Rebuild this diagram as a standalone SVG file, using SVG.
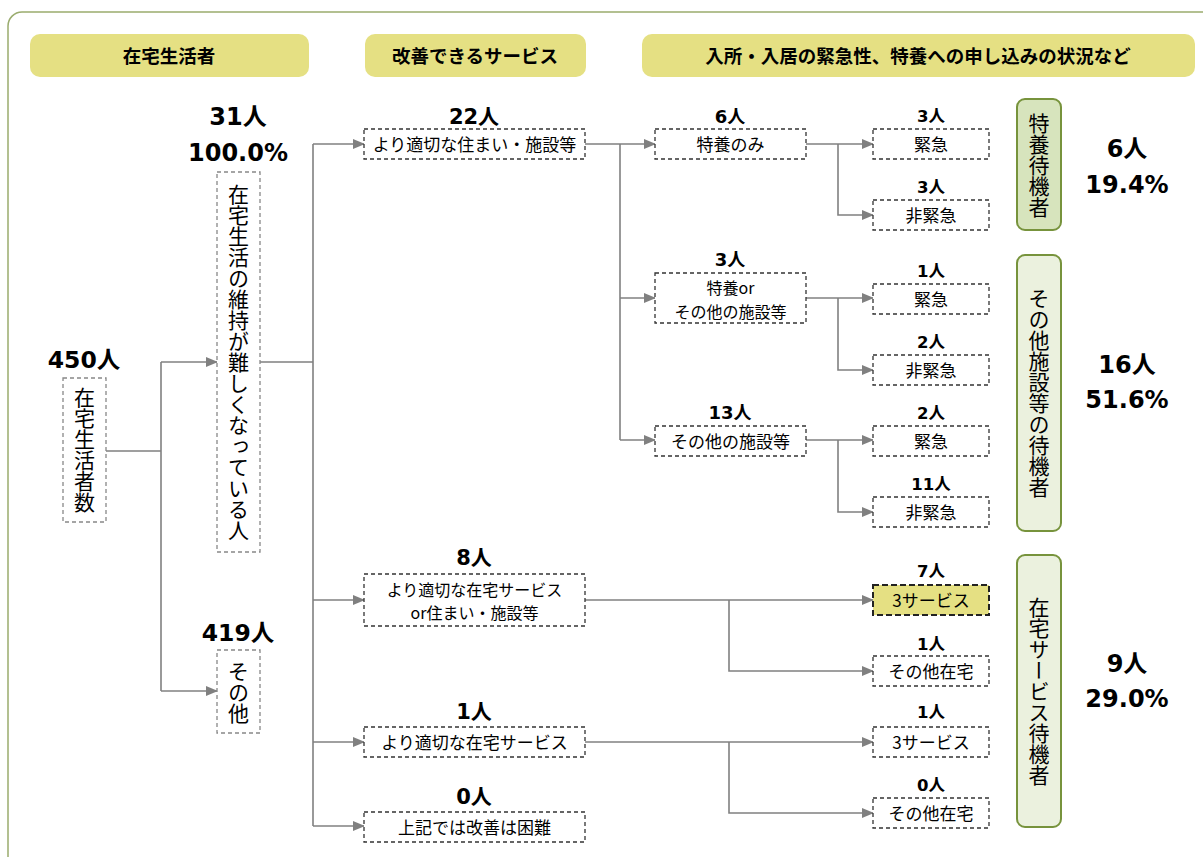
<svg xmlns="http://www.w3.org/2000/svg" width="1203" height="857" viewBox="0 0 1203 857">
<style>
text{font-family:"Noto Sans CJK JP","DejaVu Sans",sans-serif;fill:#000}
.num{font-family:"DejaVu Sans","Noto Sans CJK JP",sans-serif;font-weight:bold;text-anchor:middle}
.hd{fill:#e5e083;stroke:none}
.hdt{font-size:18.5px;font-weight:bold;text-anchor:middle}
.db{fill:#fff;stroke:#333;stroke-width:1.3;stroke-dasharray:4 3}
.gb{fill:#fff;stroke:#888;stroke-width:1.3;stroke-dasharray:4 3}
.bt{font-size:17px;text-anchor:middle}
.bt2{font-size:16px;text-anchor:middle}
.st{font-size:17px;text-anchor:middle}
.vt{font-size:21px;writing-mode:vertical-rl;text-anchor:middle}
.gp{stroke:#77933c;stroke-width:2}
.con path{fill:none;stroke:#808080;stroke-width:1.6}
</style>
<defs>
<marker id="ar" markerWidth="12" markerHeight="10" refX="11" refY="5" orient="auto" markerUnits="userSpaceOnUse">
<path d="M0,0 L12,5 L0,10 Z" fill="#808080"/>
</marker>
</defs>
<rect x="8" y="12" width="1220" height="880" rx="14" fill="#fff" stroke="#9aac6e" stroke-width="1.5"/>

<g id="headers">
<rect class="hd" x="30" y="34" width="279" height="43" rx="10"/>
<text class="hdt" x="169" y="63">在宅生活者</text>
<rect class="hd" x="365" y="34" width="221" height="43" rx="10"/>
<text class="hdt" x="475" y="63">改善できるサービス</text>
<rect class="hd" x="642" y="34" width="553" height="43" rx="10"/>
<text class="hdt" x="918" y="63">入所・入居の緊急性、特養への申し込みの状況など</text>
</g>

<g class="con" id="connectors">
<path d="M106,451 H161 M161,362 V691"/>
<path d="M161,362 H217" marker-end="url(#ar)"/>
<path d="M161,691 H217" marker-end="url(#ar)"/>
<path d="M260,362 H313 M313,144 V826"/>
<path d="M313,144 H364" marker-end="url(#ar)"/>
<path d="M313,600 H364" marker-end="url(#ar)"/>
<path d="M313,742 H364" marker-end="url(#ar)"/>
<path d="M313,826 H364" marker-end="url(#ar)"/>
<path d="M585,144 H620 M620,144 V440"/>
<path d="M620,144 H655" marker-end="url(#ar)"/>
<path d="M620,298 H655" marker-end="url(#ar)"/>
<path d="M620,440 H655" marker-end="url(#ar)"/>
<path d="M806,144 H873" marker-end="url(#ar)"/>
<path d="M838,144 V215 H873" marker-end="url(#ar)"/>
<path d="M806,298 H873" marker-end="url(#ar)"/>
<path d="M838,298 V370 H873" marker-end="url(#ar)"/>
<path d="M806,440 H873" marker-end="url(#ar)"/>
<path d="M838,440 V512 H873" marker-end="url(#ar)"/>
<path d="M585,600 H873" marker-end="url(#ar)"/>
<path d="M729,600 V671 H873" marker-end="url(#ar)"/>
<path d="M585,742 H873" marker-end="url(#ar)"/>
<path d="M729,742 V813 H873" marker-end="url(#ar)"/>
</g>

<g id="n450">
<text class="num" x="84" y="368" font-size="23.5">450人</text>
<rect class="gb" x="63" y="378" width="43" height="144"/>
<text class="vt" x="84.5" y="450">在宅生活者数</text>
</g>
<g id="n31">
<text class="num" x="238" y="125" font-size="24">31人</text>
<text class="num" x="238" y="161" font-size="24">100.0%</text>
<rect class="gb" x="217" y="172" width="43" height="380"/>
<text class="vt" x="238.5" y="362">在宅生活の維持が難しくなっている人</text>
</g>
<g id="n419">
<text class="num" x="238" y="641" font-size="23.5">419人</text>
<rect class="gb" x="217" y="650" width="43" height="83"/>
<text class="vt" x="238.5" y="692">その他</text>
</g>

<g id="m22">
<text class="num" x="474" y="124" font-size="21">22人</text>
<rect class="db" x="364" y="129" width="221" height="30"/>
<text class="bt" x="474.5" y="150.5">より適切な住まい・施設等</text>
</g>
<g id="m8">
<text class="num" x="474" y="565" font-size="21">8人</text>
<rect class="db" x="364" y="574" width="221" height="52"/>
<text class="bt2" x="474.5" y="595.5">より適切な在宅サービス</text>
<text class="bt2" x="474.5" y="619">or住まい・施設等</text>
</g>
<g id="m1">
<text class="num" x="474" y="719" font-size="21">1人</text>
<rect class="db" x="364" y="727" width="221" height="30"/>
<text class="bt" x="474.5" y="748.5">より適切な在宅サービス</text>
</g>
<g id="m0">
<text class="num" x="474" y="804" font-size="21">0人</text>
<rect class="db" x="364" y="812" width="221" height="30"/>
<text class="bt" x="474.5" y="833.5">上記では改善は困難</text>
</g>

<g id="c6">
<text class="num" x="730" y="123" font-size="18">6人</text>
<rect class="db" x="655" y="129" width="151" height="30"/>
<text class="bt" x="730.5" y="150.5">特養のみ</text>
</g>
<g id="c3">
<text class="num" x="730" y="266" font-size="18">3人</text>
<rect class="db" x="655" y="273" width="151" height="50"/>
<text class="bt2" x="730.5" y="294">特養or</text>
<text class="bt2" x="730.5" y="317.5">その他の施設等</text>
</g>
<g id="c13">
<text class="num" x="730" y="419" font-size="18">13人</text>
<rect class="db" x="655" y="426" width="151" height="30"/>
<text class="bt" x="730.5" y="447.5">その他の施設等</text>
</g>

<g id="r1">
<text class="num" x="931" y="122" font-size="16.5">3人</text>
<rect class="db" x="873" y="129" width="116" height="30"/>
<text class="st" x="931" y="150.5">緊急</text>
</g>
<g id="r2">
<text class="num" x="931" y="193" font-size="16.5">3人</text>
<rect class="db" x="873" y="200" width="116" height="30"/>
<text class="st" x="931" y="221.5">非緊急</text>
</g>
<g id="r3">
<text class="num" x="931" y="277" font-size="16.5">1人</text>
<rect class="db" x="873" y="284" width="116" height="30"/>
<text class="st" x="931" y="305.5">緊急</text>
</g>
<g id="r4">
<text class="num" x="931" y="348" font-size="16.5">2人</text>
<rect class="db" x="873" y="355" width="116" height="30"/>
<text class="st" x="931" y="376.5">非緊急</text>
</g>
<g id="r5">
<text class="num" x="931" y="419" font-size="16.5">2人</text>
<rect class="db" x="873" y="426" width="116" height="30"/>
<text class="st" x="931" y="447.5">緊急</text>
</g>
<g id="r6">
<text class="num" x="931" y="490" font-size="16.5">11人</text>
<rect class="db" x="873" y="497" width="116" height="30"/>
<text class="st" x="931" y="518.5">非緊急</text>
</g>
<g id="r7">
<text class="num" x="931" y="577" font-size="16.5">7人</text>
<rect x="873" y="585" width="116" height="30" fill="#e5e083" stroke="#222" stroke-width="2" stroke-dasharray="6 3"/>
<text class="st" x="931" y="606.5">3サービス</text>
</g>
<g id="r8">
<text class="num" x="931" y="650" font-size="16.5">1人</text>
<rect class="db" x="873" y="656" width="116" height="30"/>
<text class="st" x="931" y="677.5">その他在宅</text>
</g>
<g id="r9">
<text class="num" x="931" y="718" font-size="16.5">1人</text>
<rect class="db" x="873" y="727" width="116" height="30"/>
<text class="st" x="931" y="748.5">3サービス</text>
</g>
<g id="r10">
<text class="num" x="931" y="791" font-size="16.5">0人</text>
<rect class="db" x="873" y="798" width="116" height="30"/>
<text class="st" x="931" y="819.5">その他在宅</text>
</g>

<g id="g1">
<rect class="gp" x="1017" y="99" width="44" height="131" rx="8" fill="#d7e4bd"/>
<text class="vt" x="1039" y="165" font-size="20">特養待機者</text>
<text class="num" x="1127" y="157" font-size="24">6人</text>
<text class="num" x="1127" y="193" font-size="24">19.4%</text>
</g>
<g id="g2">
<rect class="gp" x="1017" y="255" width="44" height="276" rx="8" fill="#ebf1de"/>
<text class="vt" x="1039" y="393" font-size="20">その他施設等の待機者</text>
<text class="num" x="1127" y="373" font-size="24">16人</text>
<text class="num" x="1127" y="408" font-size="24">51.6%</text>
</g>
<g id="g3">
<rect class="gp" x="1017" y="555" width="44" height="272" rx="8" fill="#ebf1de"/>
<text class="vt" x="1039" y="691" font-size="20">在宅サービス待機者</text>
<text class="num" x="1127" y="672" font-size="24">9人</text>
<text class="num" x="1127" y="707" font-size="24">29.0%</text>
</g>
</svg>
